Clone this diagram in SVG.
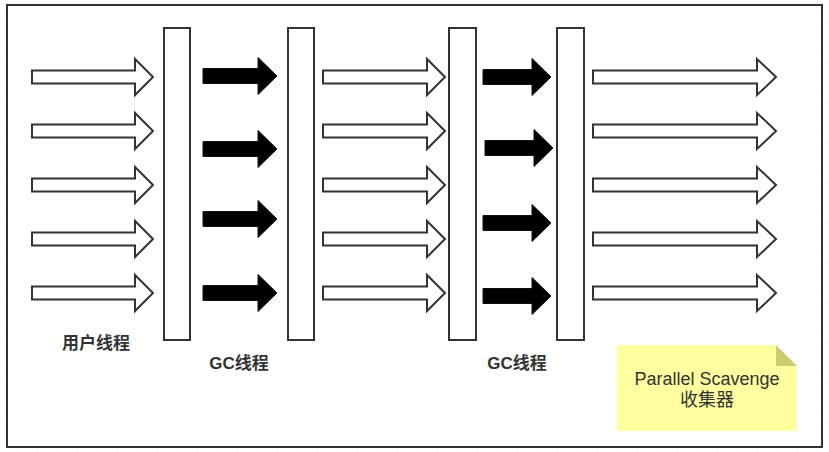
<svg xmlns="http://www.w3.org/2000/svg" xmlns:xlink="http://www.w3.org/1999/xlink" width="829" height="452" viewBox="0 0 829 452">
<style>
.frame{fill:#fff;stroke:#333;stroke-width:2}
.bar{fill:#fff;stroke:#333;stroke-width:2}
.hollow{fill:#fff;stroke:#333;stroke-width:2;stroke-linejoin:miter}
.solid{fill:#000;stroke:#111;stroke-width:1;stroke-linejoin:miter}
.lbl{font-family:"Liberation Sans","Noto Sans CJK SC",sans-serif;font-weight:bold;font-size:17px;fill:#333;text-anchor:middle}
.note{fill:#ffff9f;stroke:none}
.fold{fill:#cccc6e}
.ntxt{font-family:"Liberation Sans","Noto Sans CJK SC",sans-serif;font-size:18px;fill:#333;text-anchor:middle}
</style>
<defs>
<pattern id="grid" x="-2" y="4" width="20" height="20" patternUnits="userSpaceOnUse">
<path d="M20 0V20M0 20H20" fill="none" stroke="#ececec" stroke-width="1"/>
</pattern>
<path id="h1" d="M0,-6.5 H103 V-18 L121,0 L103,18 V6.5 H0 Z"/>
<path id="h2" d="M0,-6.5 H104 V-18 L122,0 L104,18 V6.5 H0 Z"/>
<path id="h3" d="M0,-6.5 H164 V-18 L183,0 L164,18 V6.5 H0 Z"/>
<path id="b1" d="M0,-7.5 H55 V-18.5 L74,0 L55,18.5 V7.5 H0 Z"/>
<path id="b2" d="M0,-7.5 H49 V-18.5 L68,0 L49,18.5 V7.5 H0 Z"/>
</defs>
<rect width="829" height="452" fill="#fff"/>
<rect width="829" height="452" fill="url(#grid)"/>
<rect class="frame" x="7" y="5" width="815" height="442"/>

<g id="bar1"><rect class="bar" x="164" y="28" width="26" height="312"/></g>
<g id="bar2"><rect class="bar" x="288" y="28" width="26" height="312"/></g>
<g id="bar3"><rect class="bar" x="449" y="28" width="27" height="312"/></g>
<g id="bar4"><rect class="bar" x="557" y="28" width="27" height="312"/></g>

<g id="arrows">
<use xlink:href="#h1" class="hollow" x="32" y="77"/>
<use xlink:href="#h1" class="hollow" x="32" y="131"/>
<use xlink:href="#h1" class="hollow" x="32" y="185"/>
<use xlink:href="#h1" class="hollow" x="32" y="239"/>
<use xlink:href="#h1" class="hollow" x="32" y="293"/>

<use xlink:href="#b1" class="solid" x="203" y="76"/>
<use xlink:href="#b1" class="solid" x="203" y="149"/>
<use xlink:href="#b1" class="solid" x="203" y="219"/>
<use xlink:href="#b1" class="solid" x="203" y="293"/>

<use xlink:href="#h2" class="hollow" x="323" y="77"/>
<use xlink:href="#h2" class="hollow" x="323" y="131"/>
<use xlink:href="#h2" class="hollow" x="323" y="185"/>
<use xlink:href="#h2" class="hollow" x="323" y="239"/>
<use xlink:href="#h2" class="hollow" x="323" y="293"/>

<use xlink:href="#b2" class="solid" x="483" y="77"/>
<use xlink:href="#b2" class="solid" x="485" y="148"/>
<use xlink:href="#b2" class="solid" x="483" y="223"/>
<use xlink:href="#b2" class="solid" x="483" y="296"/>

<use xlink:href="#h3" class="hollow" x="593" y="77"/>
<use xlink:href="#h3" class="hollow" x="593" y="131"/>
<use xlink:href="#h3" class="hollow" x="593" y="185"/>
<use xlink:href="#h3" class="hollow" x="593" y="239"/>
<use xlink:href="#h3" class="hollow" x="593" y="293"/>
</g>

<g id="label-user"><text class="lbl" x="96" y="349">用户线程</text></g>
<g id="label-gc1"><text class="lbl" x="239" y="369">GC线程</text></g>
<g id="label-gc2"><text class="lbl" x="517" y="369">GC线程</text></g>

<g id="note">
<path class="note" d="M617,345 H776 L797,366 V431 H617 Z"/>
<path class="fold" d="M776,345 L797,366 H776 Z"/>
<text class="ntxt" x="707" y="385">Parallel Scavenge</text>
<text class="ntxt" x="707" y="406">收集器</text>
</g>
</svg>
